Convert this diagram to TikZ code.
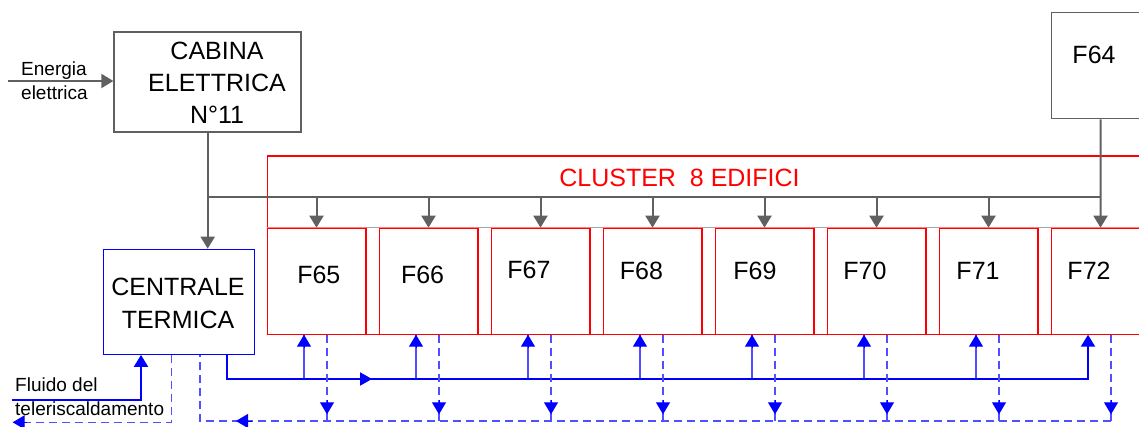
\documentclass[tikz,border=0pt]{standalone}
\usepackage{fontspec}
\setmainfont{Liberation Sans}
\usetikzlibrary{arrows.meta,calc}
\definecolor{gline}{RGB}{96,96,96}
\definecolor{lgray}{RGB}{165,165,165}
\definecolor{pinkline}{RGB}{255,128,128}
\definecolor{bmainc}{RGB}{0,0,255}
\definecolor{bbrc}{RGB}{80,80,255}
\begin{document}
\begin{tikzpicture}[x=1pt,y=-1pt,
  big/.style={font=\fontsize{25}{32}\selectfont, inner sep=0pt},
  small/.style={font=\fontsize{19}{24}\selectfont, inner sep=0pt, align=left, anchor=west},
  gbox/.style={draw=gline, line width=2pt, inner sep=0pt},
  fbox/.style={draw=red, line width=1pt, minimum width=98pt, minimum height=106pt, anchor=north west, inner sep=0pt},
  garrow/.style={draw=gline, line width=2pt, -{Triangle[width=14pt,length=12pt]}},
  bmain/.style={draw=bmainc, line width=2pt},
  bbranch/.style={draw=bbrc, line width=1.3pt},
  bdash/.style={draw=bbrc, line width=1.3pt, dash pattern=on 8pt off 5pt},
  btip/.style={draw=bmainc, fill=bmainc, line width=1pt, -{Triangle[width=14pt,length=12pt]}}
]
\useasboundingbox (0,0) rectangle (1139,427);
\clip (0,0) rectangle (1139,427);

% boxes
\node[gbox, minimum width=186.7pt, minimum height=99.7pt] (cab) at (207.7,82.2) {};
\node[big, align=center] (cabt) at (217,83) {CABINA\\ELETTRICA\\N°11};
\node[draw=bmainc, line width=1.2pt, inner sep=0pt, minimum width=151pt, minimum height=105pt] (cent) at (178.8,301.8) {};
\node[big, align=center, font=\fontsize{25}{33}\selectfont] (centt) at (178,303) {CENTRALE\\TERMICA};
\node[draw=gline, line width=1.2pt, inner sep=0pt, minimum width=98pt, minimum height=106pt, anchor=north west] (f64) at (1051,12.3) {};
\node[big, anchor=base] (f64t) at (1094,64) {F64};

\node[draw=red, line width=1.3pt, inner sep=0pt, minimum width=890pt, minimum height=178.4pt, anchor=north west] (cluster) at (267,155.3) {};
\node[big, text=red, anchor=base] (clt) at (679.5,187) {CLUSTER\ \ 8 EDIFICI};

\foreach \n [count=\k from 0] in {65,...,72} {
  \node[fbox] (f\n) at ({267+112*\k},227.7) {};
}
\draw[lgray, line width=1pt] (f65.north west) -- (f72.north east);
\foreach \n in {65,...,72} {
  \draw[pinkline, line width=1.2pt] (f\n.north west) -- (f\n.north east);
  \draw[red, line width=1pt] (f\n.north west) -- (f\n.south west) (f\n.north east) -- (f\n.south east);
}
\foreach \n/\x/\y in {65/318.8/283.3, 66/422.6/283.3, 67/529/279, 68/641.5/279.5, 69/755/279.5, 70/865/279.3, 71/978/279.3, 72/1089/279.3} {
  \node[big, anchor=base] (t\n) at (\x,\y) {F\n};
}

% labels
\node[small] (en) at (21,81.2) {Energia\\elettrica};
\node[small] (fl) at (15,397.2) {Fluido del\\teleriscaldamento};

% grey connections
\coordinate (ein) at (8,81);
\draw[garrow] (ein) -- (cab.west |- ein);
\draw[garrow] (cab.south) -- (cab.south |- cent.north);
\coordinate (busL) at (cab.south |- 0,197.3);
\draw[gline, line width=2pt] (busL) -- (f64.south |- busL);
\draw[garrow] (f64.south) -- (f72.north);
\foreach \n in {65,...,71} {
  \draw[garrow] (f\n.north |- busL) -- (f\n.north);
}

% blue coordinates
\foreach \n in {65,...,72} {
  \path (f\n.south west) ++(37,0) coordinate (u\n) ++(23,0) coordinate (d\n);
}
\coordinate (s0) at (226.7,379);
\coordinate (smid) at (372,379);
\coordinate (r0) at (200,421);
\coordinate (rmid) at (236,421);
\coordinate (rst) at (252,421);
\coordinate (o1) at (171.3,422.3);
\coordinate (oend) at (12.7,422.3);
\coordinate (ost) at (26.7,422.3);
\coordinate (i0) at (11.7,400);
\coordinate (i1) at (141,400);

% supply
\foreach \n in {65,...,71} {
  \draw[bbranch] (u\n |- s0) -- (u\n);
  \draw[btip] (u\n |- 0,348) -- (u\n);
}
\draw[bmain, -{Triangle[width=14pt,length=12pt]}] (cent.south -| s0) -- (s0) -- (s0 -| u72) -- (u72);
\draw[bmain, -{Triangle[width=13pt,length=12pt]}] (s0) -- (smid);

% returns
\foreach \n in {65,...,72} {
  \draw[bdash] (d\n) -- (d\n |- r0);
  \draw[btip] (d\n |- 0,400) -- (d\n |- 0,414.3);
}
\draw[bdash] (d72 |- r0) -- (r0) -- (r0 |- cent.south);
\draw[btip] (rst) -- (rmid);

% out / in
\draw[bdash] (cent.south -| o1) -- (o1) -- (oend);
\draw[btip] (ost) -- (oend);
\draw[bmain, -{Triangle[width=14pt,length=12pt]}] (i0) -- (i1) -- (i1 |- cent.south);
\end{tikzpicture}
\end{document}
